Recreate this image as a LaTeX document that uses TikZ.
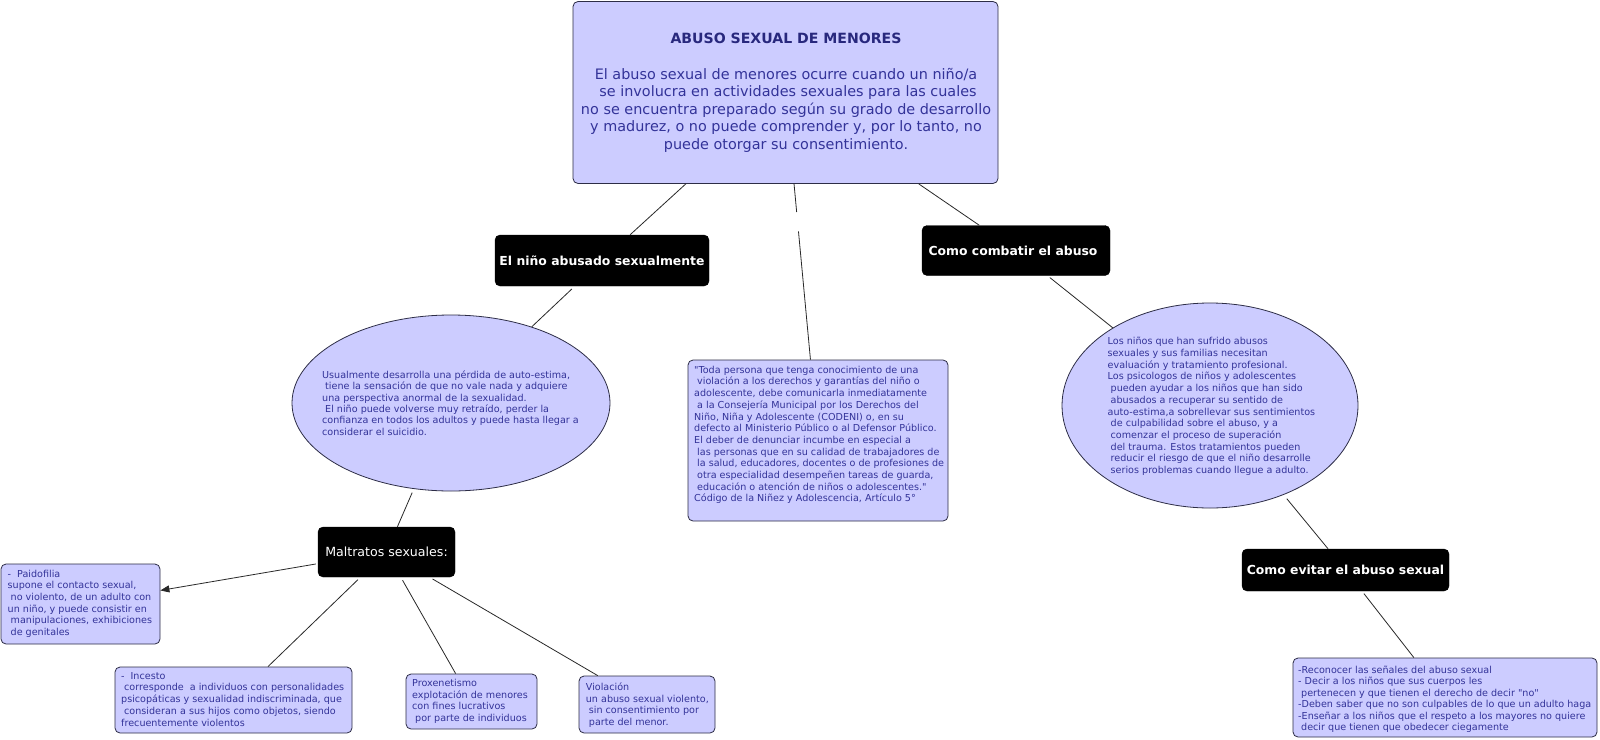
\documentclass[tikz,border=0pt]{standalone}
\usepackage{fontspec}
\setmainfont{DejaVu Sans}
\newfontfamily\qfont{DejaVu Sans}
\usetikzlibrary{shapes.geometric,arrows.meta}
\definecolor{lav}{RGB}{204,204,255}
\definecolor{txtc}{RGB}{51,51,153}
\definecolor{titc}{RGB}{40,40,125}
\definecolor{bord}{RGB}{45,45,70}
\definecolor{linec}{RGB}{40,40,40}
\newcommand\fsz[2]{\fontsize{#1}{#2}\selectfont\lineskiplimit=-30pt\lineskip=0pt}
\newcommand\mystrut{\rule{0pt}{8pt}}
\newcommand\lsp{\hspace*{3pt}}
\newcommand\dq{{\qfont"}}
\begin{document}
\begin{tikzpicture}[x=1pt,y=-1pt,
  blkbox/.style={fill=black, draw=black, rounded corners=5pt, text=white, inner sep=0pt},
  lavbox/.style={draw=bord, fill=lav, rounded corners=5pt, line width=0.8pt, inner sep=0pt},
  lavell/.style={ellipse, draw=bord, fill=lav, line width=0.8pt, inner sep=0pt},
  body/.style={anchor=north west, align=left, inner sep=0pt, text=txtc},
  conn/.style={draw=linec, line width=0.8pt},
  lbl/.style={font=\fontsize{12.4}{14}\selectfont\bfseries}
]
\fill[white] (0,0) rectangle (1600,739);
\useasboundingbox (0,0) rectangle (1600,739);

% boxes
\node[lavbox, minimum width=425pt, minimum height=182pt] (top) at (785.5,92.5) {};
\node[blkbox, lbl, minimum width=214pt, minimum height=51pt] (nino) at (602,260.5) {El niño abusado sexualmente};
\node[blkbox, lbl, minimum width=188pt, minimum height=50pt] (comb) at (1016,250.5) {Como combatir el abuso\hspace*{6pt}};
\node[lavell, minimum width=318pt, minimum height=176pt] (ellL) at (451,403) {};
\node[lavbox, minimum width=260pt, minimum height=161pt] (quote) at (818,440.5) {};
\node[lavell, minimum width=296pt, minimum height=205pt] (ellR) at (1210,405.5) {};
\node[blkbox, font=\fontsize{12.6}{14}\selectfont, minimum width=137pt, minimum height=50pt] (malt) at (386.5,552) {Maltratos sexuales:};
\node[blkbox, lbl, minimum width=207pt, minimum height=42pt] (evit) at (1345.5,570) {Como evitar el abuso sexual};
\node[lavbox, minimum width=159pt, minimum height=80pt] (paid) at (80.5,604) {};
\node[lavbox, minimum width=237pt, minimum height=66pt] (inc) at (233.5,700) {};
\node[lavbox, minimum width=131pt, minimum height=55pt] (prox) at (471.5,701.5) {};
\node[lavbox, minimum width=136pt, minimum height=57pt] (viol) at (647,704.5) {};
\node[lavbox, minimum width=304pt, minimum height=79pt] (prev) at (1445,697.5) {};

% texts
\node[text=titc, inner sep=0pt, font=\fontsize{14.1}{16}\selectfont\bfseries] (topTitle) at (786,38.5) {ABUSO SEXUAL DE MENORES};
\node[text=txtc, inner sep=0pt, anchor=north, align=center, font=\fsz{14.4}{17.4}] (topBody) at (786,67.3)
 {\rule{0pt}{12pt}El abuso sexual de menores ocurre cuando un niño/a\\
  \hspace*{4pt}se involucra en actividades sexuales para las cuales\\
  no se encuentra preparado según su grado de desarrollo\\
  y madurez, o no puede comprender y, por lo tanto, no\\
  puede otorgar su consentimiento.};

\node[body, font=\fsz{9.6}{11.4}] (ellLT) at (322,370.1)
 {\mystrut Usualmente desarrolla una pérdida de auto-estima,\\
  \lsp tiene la sensación de que no vale nada y adquiere\\
  una perspectiva anormal de la sexualidad.\\
  \lsp El niño puede volverse muy retraído, perder la\\
  confianza en todos los adultos y puede hasta llegar a\\
  considerar el suicidio.};

\node[body, font=\fsz{9.6}{11.7}] (quoteT) at (694,365)
 {\mystrut \dq Toda persona que tenga conocimiento de una\\
  \lsp violación a los derechos y garantías del niño o\\
  adolescente, debe comunicarla inmediatamente\\
  \lsp a la Consejería Municipal por los Derechos del\\
  Niño, Niña y Adolescente (CODENI) o, en su\\
  defecto al Ministerio Público o al Defensor Público.\\
  El deber de denunciar incumbe en especial a\\
  \lsp las personas que en su calidad de trabajadores de\\
  \lsp la salud, educadores, docentes o de profesiones de\\
  \lsp otra especialidad desempeñen tareas de guarda,\\
  \lsp educación o atención de niños o adolescentes.\dq\\
  Código de la Niñez y Adolescencia, Artículo 5°};

\node[body, font=\fsz{9.6}{11.7}] (ellRT) at (1107.5,336.6)
 {\mystrut Los niños que han sufrido abusos\\
  sexuales y sus familias necesitan\\
  evaluación y tratamiento profesional.\\
  Los psicologos de niños y adolescentes\\
  \lsp pueden ayudar a los niños que han sido\\
  \lsp abusados a recuperar su sentido de\\
  auto-estima,a sobrellevar sus sentimientos\\
  \lsp de culpabilidad sobre el abuso, y a\\
  \lsp comenzar el proceso de superación\\
  \lsp del trauma. Estos tratamientos pueden\\
  \lsp reducir el riesgo de que el niño desarrolle\\
  \lsp serios problemas cuando llegue a adulto.};

\node[body, font=\fsz{9.6}{11.6}] (paidT) at (7.5,569.1)
 {\mystrut -\hspace*{6pt}Paidofilia\\
  supone el contacto sexual,\\
  \lsp no violento, de un adulto con\\
  un niño, y puede consistir en\\
  \lsp manipulaciones, exhibiciones\\
  \lsp de genitales};

\node[body, font=\fsz{9.6}{11.75}] (incT) at (121,670.8)
 {\mystrut -\hspace*{6pt}Incesto\\
  \lsp corresponde\hspace*{6pt}a individuos con personalidades\\
  psicopáticas y sexualidad indiscriminada, que\\
  \lsp consideran a sus hijos como objetos, siendo\\
  frecuentemente violentos};

\node[body, font=\fsz{9.6}{11.6}] (proxT) at (412,678.5)
 {\mystrut Proxenetismo\\
  explotación de menores\\
  con fines lucrativos\\
  \lsp por parte de individuos};

\node[body, font=\fsz{9.6}{11.6}] (violT) at (585.7,682.3)
 {\mystrut Violación\\
  un abuso sexual violento,\\
  \lsp sin consentimiento por\\
  \lsp parte del menor.};

\node[body, font=\fsz{9.6}{11.5}] (prevT) at (1298,665)
 {\mystrut -Reconocer las señales del abuso sexual\\
  - Decir a los niños que sus cuerpos les\\
  \lsp pertenecen y que tienen el derecho de decir \dq no\dq\\
  -Deben saber que no son culpables de lo que un adulto haga\\
  -Enseñar a los niños que el respeto a los mayores no quiere\\
  \lsp decir que tienen que obedecer ciegamente};

% connectors
\draw[conn] (top) -- (nino);
\path (top) -- (quote) coordinate[pos=0.16] (gapA) coordinate[pos=0.27] (gapB);
\draw[conn] (top) -- (gapA);
\draw[conn] (gapB) -- (quote);
\draw[conn] (top) -- (comb);
\draw[conn, shorten <=4pt] (nino) -- (ellL);
\draw[conn, shorten <=3pt] (comb) -- (ellR);
\draw[conn, shorten <=4pt] (ellL) -- (malt);
\draw[conn, shorten <=2pt, -{Triangle[length=9pt,width=7pt]}] (malt) -- (paid);
\draw[conn, shorten <=3.5pt] (malt) -- (inc);
\draw[conn, shorten <=3.5pt] (malt) -- (prox);
\draw[conn, shorten <=3.5pt] (malt) -- (viol);
\draw[conn, shorten <=5pt] (ellR) -- (evit);
\draw[conn, shorten <=3pt] (evit) -- (prev);
\end{tikzpicture}
\end{document}
